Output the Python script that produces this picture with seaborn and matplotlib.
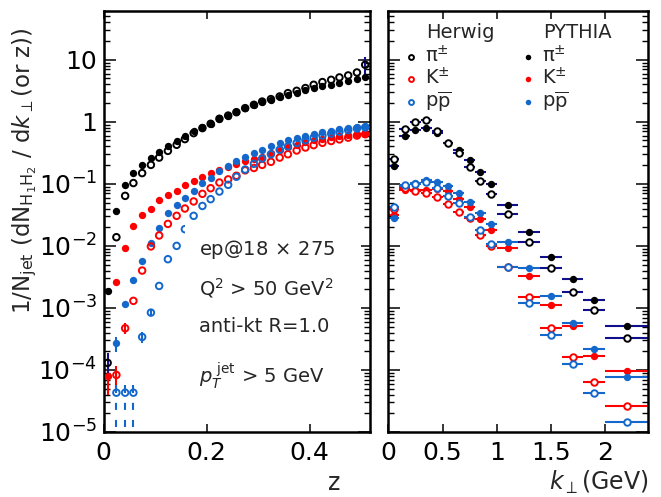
import matplotlib
matplotlib.use('Agg')
import matplotlib.pyplot as plt
from matplotlib.patches import Rectangle
from matplotlib.ticker import LogLocator, FixedLocator, FuncFormatter, NullLocator
import numpy as np
import pandas as pd
import seaborn as sns

sns.set_style('ticks')
plt.rcParams['font.family'] = ['DejaVu Sans']
plt.rcParams['mathtext.fontset'] = 'dejavusans'

BLACK = 'black'
RED = '#ff0000'
BLUE = '#1468cc'
NAVY = '#10108a'

# ---- left panel: z distributions (bin centres, width 1/60)
z = [0.008, 0.025, 0.042, 0.058, 0.075, 0.092, 0.108, 0.125, 0.142, 0.158,
     0.175, 0.192, 0.208, 0.225, 0.242, 0.258, 0.275, 0.292, 0.308, 0.325,
     0.342, 0.358, 0.375, 0.392, 0.408, 0.425, 0.442, 0.458, 0.475, 0.492,
     0.508]

pythia_pi_z = [0.0019, 0.037, 0.096, 0.149, 0.202, 0.265, 0.332, 0.41, 0.494, 0.594,
               0.698, 0.81, 0.918, 1.12, 1.26, 1.43, 1.66, 1.88, 2.05, 2.26,
               2.47, 2.72, 2.90, 3.2, 3.5, 3.71, 3.95, 4.21, 4.47, 4.89,
               5.3]
herwig_pi_z = [1.3e-4, 0.0138, 0.064, 0.103, 0.149, 0.202, 0.265, 0.34, 0.426, 0.526,
               0.657, 0.791, 0.929, 1.12, 1.26, 1.43, 1.66, 1.88, 2.12, 2.32,
               2.56, 2.90, 3.16, 3.5, 3.95, 4.37, 4.75, 5.19, 5.59, 6.24,
               8.3]
pythia_k_z = [8e-5, 0.0026, 0.0094, 0.021, 0.031, 0.0395, 0.055, 0.0665, 0.078, 0.095,
              0.11, 0.128, 0.148, 0.165, 0.185, 0.205, 0.23, 0.25, 0.275, 0.313,
              0.353, 0.395, 0.43, 0.465, 0.505, 0.535, 0.56, 0.59, 0.61, 0.635,
              0.66]
herwig_k_z = [np.nan, 8.3e-5, 4.7e-4, 0.0013, 0.004, 0.0098, 0.0147, 0.0226, 0.0305, 0.04,
              0.052, 0.069, 0.085, 0.105, 0.118, 0.135, 0.165, 0.18, 0.202, 0.226,
              0.265, 0.30, 0.345, 0.385, 0.42, 0.458, 0.49, 0.52, 0.555, 0.60,
              0.63]
pythia_p_z = [np.nan, 2.7e-4, 0.00115, 0.0028, 0.0058, 0.0113, 0.0197, 0.0335, 0.0455, 0.06,
              0.078, 0.1026, 0.126, 0.164, 0.197, 0.235, 0.269, 0.313, 0.353, 0.40,
              0.453, 0.50, 0.546, 0.594, 0.64, 0.681, 0.716, 0.762, 0.791, 0.82,
              0.85]
herwig_p_z = [np.nan, 4.3e-5, 4.3e-5, 4.3e-5, 3.4e-4, 8.4e-4, 0.00226, 0.0061, 0.01, 0.0186,
              0.0305, 0.044, 0.0566, 0.0751, 0.0964, 0.13, 0.17, 0.21, 0.255, 0.30,
              0.355, 0.40, 0.455, 0.505, 0.555, 0.60, 0.645, 0.69, 0.735, 0.78,
              0.81]

# relative errors that are visible (bin index: fraction)
herwig_pi_z_err = {0: 0.45, 30: 0.35}
pythia_k_z_err = {0: 0.5}
herwig_k_z_err = {1: 0.4, 2: 0.2}
pythia_p_z_err = {1: 0.27}
herwig_p_z_err = {1: 0.35, 2: 0.35, 3: 0.35, 4: 0.2, 5: 0.1}
herwig_p_z_open_low = [1, 2, 3]   # lower error reaches zero

# ---- right panel: kT distributions
kt = [0.05, 0.15, 0.25, 0.35, 0.45, 0.55, 0.65, 0.75, 0.85, 0.95,
      1.1, 1.3, 1.5, 1.7, 1.9, 2.2]
kt_halfwidth = [0.05, 0.05, 0.05, 0.05, 0.05, 0.05, 0.05, 0.05, 0.05, 0.05,
                0.1, 0.1, 0.1, 0.1, 0.1, 0.2]
pythia_pi_kt = [0.197, 0.58, 0.743, 0.79, 0.657, 0.463, 0.353, 0.244, 0.158, 0.0988,
                0.0458, 0.0166, 0.00658, 0.0029, 0.00135, 5.1e-4]
herwig_pi_kt = [0.25, 0.762, 1.01, 1.05, 0.698, 0.463, 0.313, 0.186, 0.112, 0.068,
                0.0324, 0.0117, 0.00447, 0.00179, 9.1e-4, 3.3e-4]
pythia_k_kt = [0.031, 0.08, 0.08, 0.08, 0.082, 0.078, 0.0566, 0.043, 0.0269, 0.0177,
               0.0092, 0.00328, 0.00112, 5.1e-4, 1.68e-4, 9.6e-5]
herwig_k_kt = [0.04, 0.085, 0.078, 0.0724, 0.062, 0.0475, 0.0357, 0.028, 0.015, 0.0098,
               0.0046, 0.00149, 4.8e-4, 1.64e-4, 6.5e-5, 2.6e-5]
pythia_p_kt = [0.028, 0.09, 0.105, 0.116, 0.109, 0.0906, 0.0708, 0.0519, 0.0337, 0.0226,
               0.0117, 0.00436, 0.00158, 5.7e-4, 2.16e-4, 7.8e-5]
herwig_p_kt = [0.043, 0.095, 0.10, 0.109, 0.085, 0.064, 0.0488, 0.0297, 0.0181, 0.0108,
               0.00465, 0.00119, 3.7e-4, 1.25e-4, 4.2e-5, 1.47e-5]

species = [r'$\mathrm{\pi}^{\pm}$', r'K$^{\pm}$', r'p$\overline{\mathrm{p}}$']
colors = [BLACK, RED, BLUE]
ecolors = [NAVY, RED, BLUE]

YMIN, YMAX = 1e-5, 60


def points(ax, x, y, color, filled, face='none'):
    df = pd.DataFrame({'x': x, 'y': y})
    if filled:
        sns.scatterplot(data=df, x='x', y='y', ax=ax, color=color, marker='o',
                        s=28, linewidth=0, zorder=3, legend=False)
    else:
        sns.scatterplot(data=df, x='x', y='y', ax=ax, marker='o', s=22,
                        facecolor=face, edgecolor=color, linewidth=1.4,
                        zorder=3, legend=False)
    return ax.collections[-1]


def rel_err(y, errs, skip_low=()):
    y = np.asarray(y, dtype=float)
    lo = np.zeros_like(y)
    hi = np.zeros_like(y)
    for i, f in errs.items():
        hi[i] = f * y[i]
        lo[i] = 0 if i in skip_low else f * y[i]
    return np.vstack([lo, hi])


fig = plt.figure(figsize=(6.61, 4.97), dpi=100)
axl = fig.add_axes([0.1566, 0.1308, 0.4026, 0.8461])
axr = fig.add_axes([0.5876, 0.1308, 0.3932, 0.8461])

# ---- left panel
left_series = [
    (pythia_pi_z, BLACK, NAVY, True, {}),
    (pythia_k_z, RED, RED, True, pythia_k_z_err),
    (pythia_p_z, BLUE, BLUE, True, pythia_p_z_err),
    (herwig_pi_z, BLACK, NAVY, False, herwig_pi_z_err),
    (herwig_k_z, RED, RED, False, herwig_k_z_err),
    (herwig_p_z, BLUE, BLUE, False, herwig_p_z_err),
]
for y, c, ec, filled, errs in left_series:
    if errs:
        skip = herwig_p_z_open_low if y is herwig_p_z else ()
        axl.errorbar(z, y, yerr=rel_err(y, errs, skip), fmt='none', ecolor=ec,
                     elinewidth=1.5, capsize=0, zorder=2)
    points(axl, z, y, c, filled)

for i in herwig_p_z_open_low:
    axl.vlines(z[i], YMIN, herwig_p_z[i] * 0.75, colors=BLUE, linewidth=1.5,
               linestyles=(5.8, (3.4, 4.8)), zorder=2)

# white box behind the labels
axl.add_patch(Rectangle((0.306, 0.074), 0.66, 0.42, transform=axl.transAxes,
                        facecolor='white', edgecolor='none', zorder=4))
labels_txt = [(0.421, r'ep@18$\,\times\,$275'),
              (0.326, r'Q$^{2}$ > 50 GeV$^{2}$'),
              (0.238, 'anti-kt R=1.0'),
              (0.117, r'$p_{T}^{\ \mathrm{jet}}$ > 5 GeV')]
for yy, t in labels_txt:
    axl.text(0.359, yy, t, transform=axl.transAxes, fontsize=14, ha='left',
             va='baseline', zorder=5)

axl.set_xlim(0, 31 / 60)
axl.set_xticks([0, 0.2, 0.4])
axl.set_xticklabels(['0', '0.2', '0.4'])
axl.set_xlabel('z', fontsize=17)
axl.xaxis.label.set_va('baseline')
axl.xaxis.set_label_coords(0.868, -0.138)

# ---- right panel
handles_h, handles_p = [], []
for i, (yp, yh) in enumerate([(pythia_pi_kt, herwig_pi_kt),
                              (pythia_k_kt, herwig_k_kt),
                              (pythia_p_kt, herwig_p_kt)]):
    axr.errorbar(kt, yp, xerr=kt_halfwidth, fmt='none', ecolor=ecolors[i],
                 elinewidth=1.5, capsize=0, zorder=2)
    handles_p.append(points(axr, kt, yp, colors[i], True))
for i, (yp, yh) in enumerate([(pythia_pi_kt, herwig_pi_kt),
                              (pythia_k_kt, herwig_k_kt),
                              (pythia_p_kt, herwig_p_kt)]):
    axr.errorbar(kt, yh, xerr=kt_halfwidth, fmt='none', ecolor=ecolors[i],
                 elinewidth=1.5, capsize=0, zorder=2)
    handles_h.append(points(axr, kt, yh, colors[i], False, face='white'))

axr.set_xlim(0, 2.4)
axr.set_xticks([0, 0.5, 1, 1.5, 2])
axr.set_xticklabels(['0', '0.5', '1', '1.5', '2'])
axr.set_xlabel(r'$k_{\perp}$(GeV)', fontsize=17)
axr.xaxis.label.set_va('baseline')
axr.xaxis.label.set_ha('right')
axr.xaxis.set_label_coords(1.0, -0.138)

leg_kw = dict(loc='upper left', frameon=False, fontsize=14, markerscale=0.75,
              handlelength=0.6, handletextpad=0.45, labelspacing=0.05,
              borderpad=0, borderaxespad=0)
leg1 = axr.legend(handles_h, species, bbox_to_anchor=(0.064, 0.921), **leg_kw)
axr.add_artist(leg1)
axr.legend(handles_p, species, bbox_to_anchor=(0.513, 0.921), **leg_kw)
axr.text(0.144, 0.951, 'Herwig', transform=axr.transAxes, fontsize=14,
         ha='left', va='center')
axr.text(0.595, 0.951, 'PYTHIA', transform=axr.transAxes, fontsize=14,
         ha='left', va='center')


def ylab(v, pos):
    if v == 1:
        return '1'
    if v == 10:
        return '10'
    return r'$10^{%d}$' % round(np.log10(v))


for ax in (axl, axr):
    ax.set_yscale('log')
    ax.set_ylim(YMIN, YMAX)
    ax.set_ylabel('')
    ax.yaxis.set_major_locator(FixedLocator([1e-5, 1e-4, 1e-3, 1e-2, 1e-1, 1, 10]))
    ax.yaxis.set_minor_locator(LogLocator(base=10, subs=np.arange(2, 10), numticks=20))
    ax.xaxis.set_minor_locator(NullLocator())
    ax.tick_params(which='both', direction='in', top=True, right=True,
                   colors='black', labelsize=18)
    ax.tick_params(axis='y', which='major', length=8.5, width=1.1, pad=4.5)
    ax.tick_params(axis='y', which='minor', length=4.3, width=1.0)
    ax.tick_params(axis='x', which='major', length=5.5, width=1.1, pad=6.5)
    for s in ax.spines.values():
        s.set_linewidth(1.8)
        s.set_color('black')

axl.yaxis.set_major_formatter(FuncFormatter(ylab))
axr.tick_params(axis='y', labelleft=False)

fig.text(0.038, 0.944,
         r'1/N$_{\mathrm{jet}}$ (dN$_{\mathrm{H_{1}H_{2}}}$ / d$k_{\perp}$(or z))',
         rotation=90, ha='center', va='top', fontsize=16.5)

fig.savefig('out.png', dpi=100)
